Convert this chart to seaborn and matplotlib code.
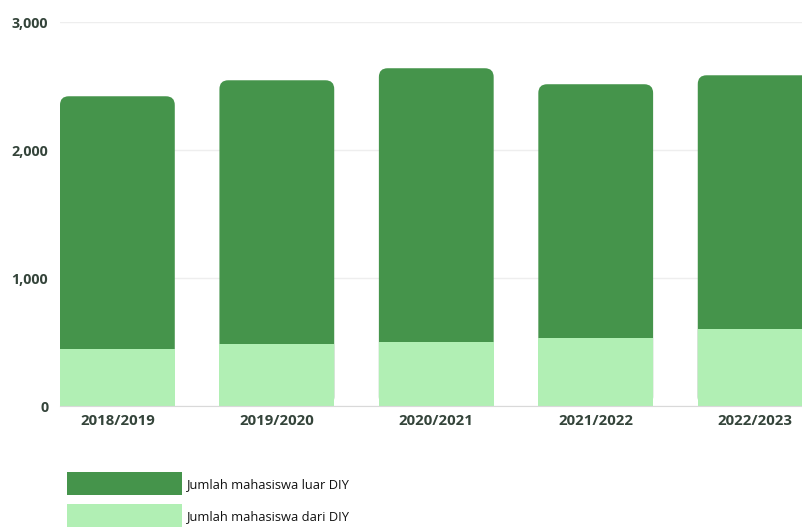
import pandas as pd
import matplotlib.pyplot as plt
import seaborn as sns
from matplotlib.patches import FancyBboxPatch, Patch

tahun = ['2018/2019', '2019/2020', '2020/2021', '2021/2022', '2022/2023']
dari_diy = [446, 485, 501, 532, 603]
luar_diy = [1974, 2060, 2138, 1982, 1981]

df = pd.DataFrame({'tahun': tahun, 'dari': dari_diy, 'luar': luar_diy})
df['total'] = df['dari'] + df['luar']

dark = '#45944b'
light = '#b1efb4'
txt = '#34443a'

sns.set_style('white')
plt.rcParams['font.family'] = ['Open Sans', 'DejaVu Sans']

fig = plt.figure(figsize=(8.03, 5.27), dpi=100)
ax = fig.add_axes([0.0747, 0.2296, 0.9253, 0.7286])

# batang total (luar DIY di atas), lalu dari DIY di bawahnya
sns.barplot(data=df, x='tahun', y='total', color=dark, width=0.72, ax=ax,
            saturation=1, zorder=2, linewidth=0, edgecolor='none')
n_dark = len(ax.patches)
sns.barplot(data=df, x='tahun', y='dari', color=light, width=0.72, ax=ax,
            saturation=1, zorder=3, linewidth=0, edgecolor='none')

# sudut atas membulat
for p in list(ax.patches[:n_dark]):
    x, y = p.get_x(), p.get_y()
    w, h = p.get_width(), p.get_height()
    r = FancyBboxPatch((x, y), w, h, boxstyle='round,pad=0,rounding_size=0.055',
                       mutation_aspect=1250, facecolor=dark, edgecolor='none',
                       linewidth=0, zorder=2)
    p.remove()
    ax.add_patch(r)

ax.set_ylim(0, 3000)
ax.set_xlim(-0.36, 4.3)
ax.set_yticks([0, 1000, 2000, 3000])
ax.set_yticklabels(['0', '1,000', '2,000', '3,000'])
ax.yaxis.grid(True, color='#eeeeee', linewidth=1, zorder=0)
ax.set_axisbelow(True)
for s in ['top', 'right', 'left']:
    ax.spines[s].set_visible(False)
ax.spines['bottom'].set_color('#d9d9d9')
ax.spines['bottom'].set_zorder(4)
ax.tick_params(axis='both', length=0, labelcolor=txt)
ax.tick_params(axis='y', pad=8.5, labelsize=10.3)
ax.tick_params(axis='x', pad=6, labelsize=10.8)
for lab in ax.get_xticklabels() + ax.get_yticklabels():
    lab.set_fontweight('bold')
ax.set_xlabel('')
ax.set_ylabel('')

handles = [Patch(facecolor=dark, edgecolor='none'), Patch(facecolor=light, edgecolor='none')]
fig.legend(handles, ['Jumlah mahasiswa luar DIY', 'Jumlah mahasiswa dari DIY'],
           loc='upper left', bbox_to_anchor=(0.083, 0.104), frameon=False,
           fontsize=9.3, handlelength=8.9, handleheight=2.35, handletextpad=0.45,
           labelspacing=0.7, borderpad=0, borderaxespad=0, labelcolor='#111111')

plt.savefig('out.png', dpi=100)
